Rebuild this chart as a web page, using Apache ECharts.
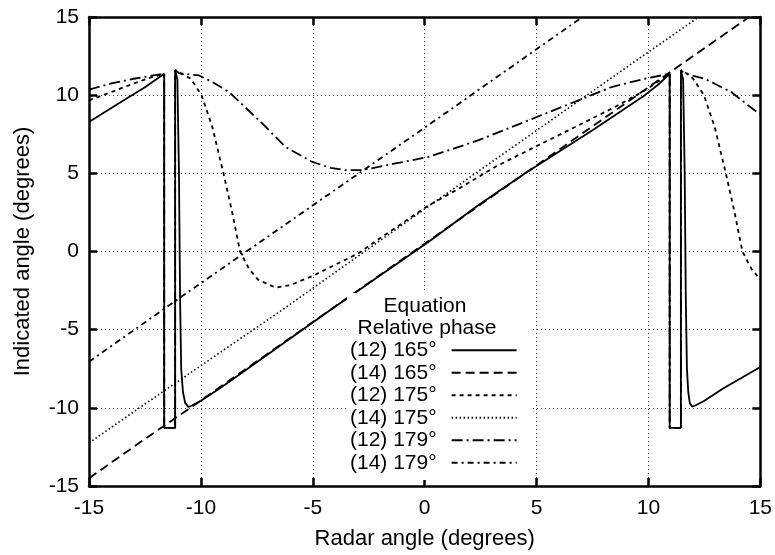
<!DOCTYPE html>
<html>
<head>
<meta charset="utf-8">
<script src="https://cdn.jsdelivr.net/npm/echarts@6/dist/echarts.min.js"></script>
<style>
html,body{margin:0;padding:0;background:#fff;}
#chart{width:775px;height:555px;}
</style>
</head>
<body>
<div id="chart"></div>
<script>
// ---- Data ----
const xTicks = [-15, -10, -5, 0, 5, 10, 15];
const yTicks = [-15, -10, -5, 0, 5, 10, 15];
const legendNames = ['(12) 165°', '(14) 165°', '(12) 175°', '(14) 175°', '(12) 179°', '(14) 179°'];

// (12) 165°
const eq12p165X = [-15, -13.5, -12.5, -11.64, -11.64, -11.15, -11.15, -11.05, -10.98, -10.93, -10.88, -10.8, -10.7, -10.55, -10.4, -10.0, -9.2, -8.29, -4.2, 0.18, 2.41, 4.49, 7.5, 9.84, 10.5, 10.95, 10.95, 11.45, 11.45, 11.55, 11.62, 11.67, 11.72, 11.78, 11.85, 11.95, 12.1, 12.5, 13.3, 15];
const eq12p165Y = [8.28, 9.62, 10.5, 11.37, -11.28, -11.28, 11.6, 11.0, 5.0, -3.0, -7.5, -9.0, -9.7, -9.95, -9.85, -9.55, -8.8, -7.88, -3.73, 0.62, 2.97, 5.0, 7.75, 10.0, 10.75, 11.37, -11.28, -11.28, 11.6, 11.0, 5.0, -3.0, -7.5, -9.0, -9.7, -9.92, -9.85, -9.55, -8.8, -7.39];

// (14) 165°
const eq14p165X = [-15, -12.75, -10.22, 0, 4.49, 14.5];
const eq14p165Y = [-14.5, -12.24, -9.75, 0.5, 5.0, 15];

// (12) 175°
const eq12p175X = [-15, -14, -13, -12.2, -11.64, -11.64, -11.15, -11.15, -10.9, -10.45, -9.97, -9.49, -8.99, -8.6, -8.25, -7.85, -7.45, -6.66, -6.0, -5.0, -4.0, -2.94, -2.0, -1.0, 0.18, 1.5, 3.15, 4.93, 6.72, 8.5, 9.84, 10.95, 10.95, 11.45, 11.45, 11.7, 12.0, 12.48, 12.96, 13.46, 13.85, 14.2, 14.6, 15];
const eq12p175Y = [9.67, 10.2, 10.75, 11.15, 11.37, -11.28, -11.28, 11.6, 11.4, 11.05, 10.0, 7.97, 5.0, 2.5, 0, -1.1, -1.8, -2.31, -2.15, -1.56, -0.85, -0.1, 0.85, 1.8, 2.95, 4.0, 5.41, 6.69, 7.96, 9.24, 10.3, 11.37, -11.28, -11.28, 11.6, 11.4, 11.05, 10.0, 7.97, 5.0, 2.5, 0, -1.1, -1.8];

// (14) 175°
const eq14p175X = [-15, -12.75, -6.36, 0.18, 9.39, 12.25];
const eq14p175Y = [-12.25, -10.0, -3.73, 2.9, 12.15, 15];

// (12) 179°
const eq12p179X = [-15, -14, -13, -12.2, -11.64, -11.64, -11.15, -11.15, -10.97, -10.08, -9.48, -8.74, -7.25, -6.22, -5.02, -4.2, -3.54, -2.8, -1.31, 0.18, 2.41, 4.64, 6.87, 8.35, 9.84, 10.95, 10.95, 11.45, 11.45, 11.6, 12.51, 13.7, 14.74, 15];
const eq12p179Y = [10.35, 10.75, 11.05, 11.25, 11.37, -11.28, -11.28, 11.6, 11.4, 11.26, 10.84, 10.2, 8.18, 6.69, 5.73, 5.35, 5.2, 5.2, 5.63, 6.05, 7.12, 8.39, 9.67, 10.52, 11.05, 11.37, -11.28, -11.28, 11.6, 11.4, 11.05, 10.2, 9.03, 8.8];

// (14) 179°
const eq14p179X = [-15, -10.97, 0.18, 7.05];
const eq14p179Y = [-7.05, -2.99, 8.1, 15];

// ---- build ----
function zip(xs, ys) { return xs.map((x, i) => [x, ys[i]]); }
const FONT = '"Liberation Sans", Arial, Helvetica, sans-serif';
const seriesDefs = [
  { name: legendNames[0], x: eq12p165X, y: eq12p165Y, type: 'solid', w: 1.8 },
  { name: legendNames[1], x: eq14p165X, y: eq14p165Y, type: [9, 5], w: 1.8 },
  { name: legendNames[2], x: eq12p175X, y: eq12p175Y, type: [4, 4], w: 1.8 },
  { name: legendNames[3], x: eq14p175X, y: eq14p175Y, type: [1.5, 2.5], w: 1.6 },
  { name: legendNames[4], x: eq12p179X, y: eq12p179Y, type: [11, 4, 2, 4], w: 1.8 },
  { name: legendNames[5], x: eq14p179X, y: eq14p179Y, type: [6, 4, 2, 4], w: 1.8 }
];

const chart = echarts.init(document.getElementById('chart'), null, { renderer: 'canvas' });

const axisCommon = {
  type: 'value', min: -15, max: 15, interval: 5,
  axisLine: { show: true, onZero: false, lineStyle: { color: '#000', width: 2.5 } },
  axisTick: { show: true, inside: true, length: 8, lineStyle: { color: '#000', width: 2.5 } },
};

chart.setOption({
  animation: false,
  backgroundColor: '#fff',
  grid: { left: 89, right: 13, top: 17, bottom: 68, containLabel: false },
  xAxis: [
    Object.assign({}, axisCommon, {
      position: 'bottom',
      name: 'Radar angle (degrees)', nameLocation: 'middle', nameGap: 42,
      nameTextStyle: { fontFamily: FONT, fontSize: 22, color: '#000' },
      axisLabel: { fontFamily: FONT, fontSize: 21, color: '#000', margin: 12, formatter: v => xTicks.includes(v) ? String(v) : '' },
      splitLine: { show: true, lineStyle: { color: '#444', width: 1, type: [1, 3] } }
    }),
    Object.assign({}, axisCommon, {
      position: 'top', axisLabel: { show: false }, splitLine: { show: false }
    })
  ],
  yAxis: [
    Object.assign({}, axisCommon, {
      position: 'left',
      name: 'Indicated angle (degrees)', nameLocation: 'middle', nameGap: 55,
      nameTextStyle: { fontFamily: FONT, fontSize: 22, color: '#000' },
      axisLabel: { fontFamily: FONT, fontSize: 21, color: '#000', margin: 10, formatter: v => yTicks.includes(v) ? String(v) : '' },
      splitLine: { show: true, lineStyle: { color: '#444', width: 1, type: [1, 3] } }
    }),
    Object.assign({}, axisCommon, {
      position: 'right', axisLabel: { show: false }, splitLine: { show: false }
    })
  ],
  legend: {
    orient: 'vertical',
    left: 347, top: 293,
    align: 'right',
    padding: [46, 15, 6, 3],
    backgroundColor: '#fff',
    itemWidth: 65, itemHeight: 14, itemGap: 0,
    selectedMode: false,
    itemStyle: { color: 'rgba(0,0,0,0)', borderWidth: 0, opacity: 0 },
    textStyle: { fontFamily: FONT, fontSize: 21, color: '#000', lineHeight: 22.5, padding: [0, 10, 0, 0] },
    data: legendNames
  },
  graphic: [
    { type: 'text', z: 100, style: { text: 'Equation', x: 425, y: 306, textAlign: 'center', textVerticalAlign: 'middle', font: '21px ' + FONT, fill: '#000' } },
    { type: 'text', z: 100, style: { text: 'Relative phase', x: 427, y: 328, textAlign: 'center', textVerticalAlign: 'middle', font: '21px ' + FONT, fill: '#000' } }
  ],
  series: seriesDefs.map(s => ({
    name: s.name,
    type: 'line',
    xAxisIndex: 0, yAxisIndex: 0,
    data: zip(s.x, s.y),
    symbol: 'none', showSymbol: false,
    clip: true,
    lineStyle: { color: '#000', width: s.w, type: s.type },
    itemStyle: { color: '#000' },
    z: 3
  }))
});
</script>
</body>
</html>
